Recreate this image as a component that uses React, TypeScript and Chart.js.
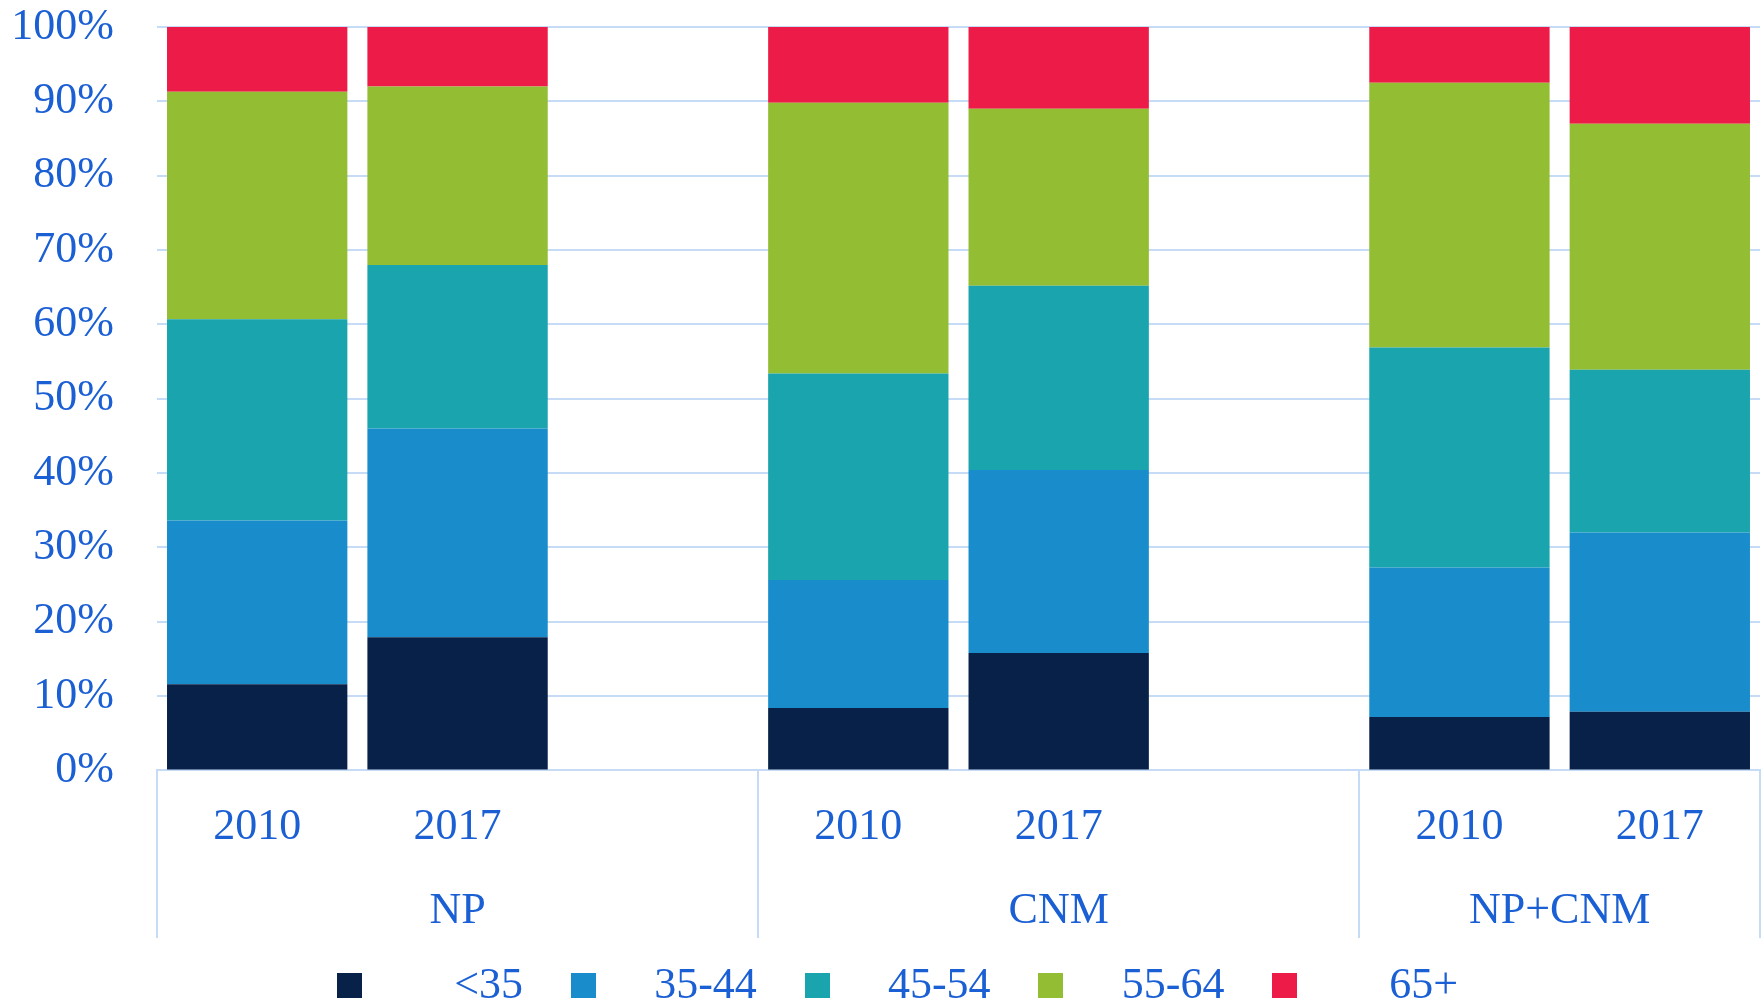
import React, { useEffect, useRef } from "react";
import { Chart, registerables } from "chart.js";

Chart.register(...registerables);

// ---- data ----
const categories = ["2010", "2017", "", "2010", "2017", "", "2010", "2017"];
const groups = ["NP", "CNM", "NP+CNM"];
const groupCenters = [1, 4, 6.5];
const groupBounds = [-0.5, 2.5, 5.5, 7.5];
const seriesNames = ["<35", "35-44", "45-54", "55-64", "65+"];
const under35 = [11.6, 17.9, null, 8.4, 15.8, null, 7.2, 7.9];
const age35to44 = [22.0, 28.1, null, 17.2, 24.6, null, 20.1, 24.1];
const age45to54 = [27.1, 22.0, null, 27.8, 24.8, null, 29.6, 21.9];
const age55to64 = [30.6, 24.0, null, 36.4, 23.8, null, 35.6, 33.1];
const age65plus = [8.7, 8.0, null, 10.2, 11.0, null, 7.5, 13.0];
const seriesValues = [under35, age35to44, age45to54, age55to64, age65plus];
const seriesColors = ["#072149", "#198DCB", "#1AA4AE", "#93BD33", "#EC1B48"];

// ---- style ----
const TEXT = "#1A5FD3";
const GRID = "#C6DBF5";
const FAMILY = "'Liberation Serif', 'Times New Roman', serif";
const FONT = { family: FAMILY, size: 44 };

const dividerPlugin = {
  id: "groupDividers",
  afterDraw(chart: any) {
    const gs = chart.scales.group;
    const ctx = chart.ctx;
    ctx.save();
    ctx.strokeStyle = GRID;
    ctx.lineWidth = 2;
    groupBounds.forEach((v) => {
      const x = Math.round(gs.getPixelForValue(v));
      ctx.beginPath();
      ctx.moveTo(x, chart.chartArea.bottom);
      ctx.lineTo(x, gs.bottom);
      ctx.stroke();
    });
    ctx.restore();
  },
};

export default function App() {
  const ref = useRef<HTMLCanvasElement | null>(null);

  useEffect(() => {
    if (!ref.current) return;
    const chart = new Chart(ref.current, {
      type: "bar",
      data: {
        labels: categories,
        datasets: seriesNames.map((name, i) => ({
          label: name,
          data: seriesValues[i],
          backgroundColor: seriesColors[i],
          borderWidth: 0,
          barPercentage: 0.9,
          categoryPercentage: 1.0,
        })),
      },
      options: {
        responsive: false,
        maintainAspectRatio: false,
        animation: false,
        layout: { padding: { top: 27, right: 1, bottom: 66, left: 0 } },
        plugins: {
          legend: { display: false },
          tooltip: { enabled: false },
        },
        scales: {
          x: {
            type: "category",
            stacked: true,
            grid: { display: false, drawTicks: false },
            border: { display: true, color: GRID, width: 2 },
            ticks: {
              font: FONT,
              color: TEXT,
              padding: 31,
              maxRotation: 0,
              autoSkip: false,
            },
          },
          group: {
            type: "linear",
            position: "bottom",
            min: -0.5,
            max: 7.5,
            offset: false,
            afterBuildTicks: (s: any) => {
              s.ticks = groupCenters.map((v) => ({ value: v }));
            },
            grid: { display: false, drawTicks: false, offset: false },
            border: { display: false },
            ticks: {
              font: FONT,
              color: TEXT,
              padding: 0,
              maxRotation: 0,
              autoSkip: false,
              callback: (v: any) => {
                const idx = groupCenters.indexOf(Number(v));
                return idx >= 0 ? groups[idx] : "";
              },
            },
          },
          y: {
            stacked: true,
            min: 0,
            max: 100,
            afterFit: (s: any) => {
              s.width = 157;
              s.paddingTop = 0;
              s.paddingBottom = 0;
            },
            grid: { color: GRID, lineWidth: 2, drawTicks: false },
            border: { display: false },
            ticks: {
              stepSize: 10,
              font: FONT,
              color: TEXT,
              padding: 43,
              callback: (v: any) => v + "%",
            },
          },
        },
      },
      plugins: [dividerPlugin],
    });
    return () => chart.destroy();
  }, []);

  return (
    <div
      style={{
        position: "absolute",
        left: 0,
        top: 0,
        width: 1761,
        height: 1004,
        background: "#ffffff",
        overflow: "hidden",
      }}
    >
      <canvas ref={ref} width={1761} height={1004} style={{ display: "block" }} />
      {seriesNames.map((name, i) => (
        <div
          key={name}
          style={{
            position: "absolute",
            left: 337 + i * 233.8,
            top: 958,
            width: 200,
            height: 53,
          }}
        >
          <div
            style={{
              position: "absolute",
              left: 0,
              top: 15,
              width: 25,
              height: 25,
              background: seriesColors[i],
            }}
          />
          <div
            style={{
              position: "absolute",
              left: 0,
              top: 0,
              width: 186,
              textAlign: "right",
              fontFamily: FAMILY,
              fontSize: 44,
              lineHeight: "52.8px",
              color: TEXT,
              whiteSpace: "nowrap",
            }}
          >
            {name}
          </div>
        </div>
      ))}
    </div>
  );
}
